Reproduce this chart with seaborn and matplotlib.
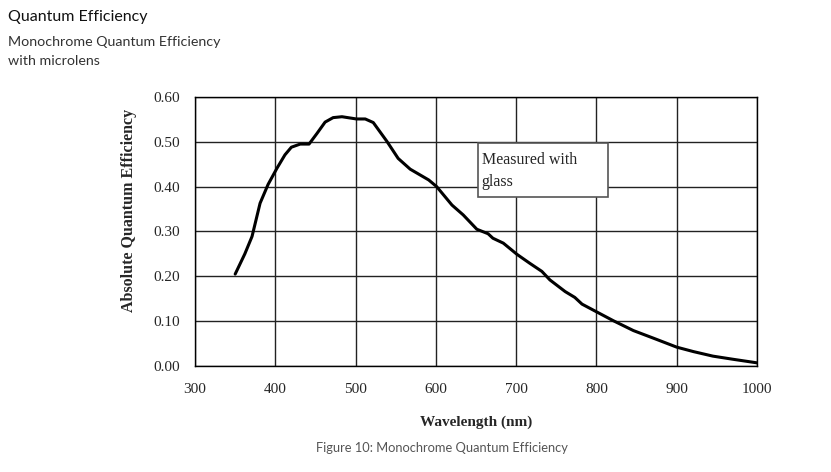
import numpy as np
import pandas as pd
import matplotlib
matplotlib.use("Agg")
import matplotlib.pyplot as plt
from matplotlib.ticker import MultipleLocator
from matplotlib.patches import Rectangle
import seaborn as sns

## data
wavelength = [350, 362, 371, 381, 391, 402, 412, 420, 431, 442, 452, 462, 472, 483,
              501, 512, 522, 539, 553, 568, 591, 601, 620, 634, 651, 665, 671, 684,
              701, 717, 732, 742, 761, 773, 782, 802, 821, 846, 871, 900, 921, 945,
              970, 1000]
qe = [0.205, 0.250, 0.289, 0.363, 0.405, 0.441, 0.471, 0.488, 0.495, 0.495, 0.519,
      0.544, 0.554, 0.556, 0.551, 0.551, 0.543, 0.501, 0.463, 0.439, 0.415, 0.400,
      0.359, 0.337, 0.305, 0.295, 0.285, 0.274, 0.249, 0.229, 0.211, 0.192, 0.166,
      0.153, 0.138, 0.119, 0.101, 0.079, 0.062, 0.042, 0.032, 0.022, 0.015, 0.007]
xticks = [300, 400, 500, 600, 700, 800, 900, 1000]
yticks = [0.0, 0.1, 0.2, 0.3, 0.4, 0.5, 0.6]

df = pd.DataFrame({"wl": wavelength, "qe": qe})

sns.set_style("white")
plt.rcParams['font.family'] = ['Liberation Serif', 'DejaVu Serif']

fig = plt.figure(figsize=(8.31, 4.72), dpi=100)
ax = fig.add_axes([0.2347, 0.2246, 0.911 - 0.2347, 0.7945 - 0.2246])

sns.lineplot(data=df, x="wl", y="qe", ax=ax, color="black", linewidth=2.2)

ax.set_xlim(300, 1000)
ax.set_ylim(0, 0.6)
ax.set_xticks(xticks)
ax.set_yticks(yticks)
ax.set_yticklabels(["%.2f" % v for v in yticks])
ax.xaxis.set_minor_locator(MultipleLocator(20))
ax.yaxis.set_minor_locator(MultipleLocator(0.02))
ax.tick_params(which="major", direction="inout", length=7, width=1, labelsize=11, pad=7)
ax.tick_params(which="minor", direction="in", length=4, width=1)
ax.tick_params(axis="x", which="major", pad=9)
ax.grid(True, which="major", color="#222222", linewidth=1)
for s in ax.spines.values():
    s.set_color("black")
    s.set_linewidth(1)

ax.set_xlabel("Wavelength (nm)", fontsize=11, fontweight="bold", labelpad=14)
ax.set_ylabel("Absolute Quantum Efficiency", fontsize=11.5, fontweight="bold")
ax.yaxis.set_label_coords(-0.104, 0.58)

# note box
ax.add_patch(Rectangle((652, 0.377), 162, 0.121, facecolor="white", edgecolor="#555555",
                       linewidth=1.2, zorder=3))
ax.text(657, 0.460, "Measured with", fontsize=11.5, va="center", zorder=4)
ax.text(657, 0.411, "glass", fontsize=11.5, va="center", zorder=4)

# header and caption
sans = ['Lato', 'DejaVu Sans']
fig.text(0.010, 0.964, "Quantum Efficiency", family=sans, fontsize=11.5, color="#111111", va="center")
fig.text(0.010, 0.911, "Monochrome Quantum Efficiency", family=sans, fontsize=10.3, color="#333333", va="center")
fig.text(0.010, 0.871, "with microlens", family=sans, fontsize=10.3, color="#333333", va="center")
fig.text(0.532, 0.051, "Figure 10: Monochrome Quantum Efficiency", family=sans, fontsize=9.3,
         color="#555555", ha="center", va="center")

fig.savefig("out.png", dpi=100)
